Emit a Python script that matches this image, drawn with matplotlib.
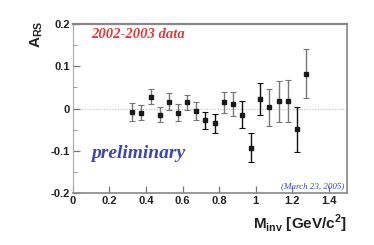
import matplotlib

matplotlib.use("Agg")
import matplotlib.pyplot as plt  # noqa: E402

# asymmetry vs invariant mass
m_inv = [0.325, 0.375, 0.425, 0.475, 0.525, 0.575, 0.625, 0.675, 0.725, 0.775,
         0.825, 0.875, 0.925, 0.975, 1.025, 1.075, 1.125, 1.175, 1.225, 1.275]
a_rs = [-0.008, -0.010, 0.028, -0.015, 0.016, -0.010, 0.015, -0.005, -0.028, -0.035,
        0.015, 0.011, -0.015, -0.093, 0.023, 0.003, 0.017, 0.018, -0.049, 0.082]
a_err = [0.021, 0.018, 0.018, 0.018, 0.020, 0.020, 0.018, 0.021, 0.020, 0.022,
         0.025, 0.029, 0.032, 0.034, 0.038, 0.044, 0.048, 0.049, 0.053, 0.058]
err_dark = [False, False, False, False, False, False, False, False, True, True,
            False, False, True, True, True, False, False, False, True, False]

x_ticks = [0, 0.2, 0.4, 0.6, 0.8, 1.0, 1.2, 1.4]
x_labels = ["0", "0.2", "0.4", "0.6", "0.8", "1", "1.2", "1.4"]
y_ticks = [-0.2, -0.1, 0, 0.1, 0.2]
y_labels = ["-0.2", "-0.1", "0", "0.1", "0.2"]

fig = plt.figure(figsize=(3.74, 2.45), dpi=100)
ax = fig.add_axes([0.195, 0.212, 0.733, 0.69])

ax.axhline(0, color="#bbbbbb", lw=0.8, ls=(0, (1, 1.5)), zorder=1)

for x, y, e, dark in zip(m_inv, a_rs, a_err, err_dark):
    col = "#111111" if dark else "#777777"
    ax.errorbar(x, y, yerr=e, fmt="none", ecolor=col, elinewidth=1.0,
                capsize=2, capthick=0.8, zorder=2)
ax.plot(m_inv, a_rs, "s", color="#1a1a1a", ms=3.0, zorder=3)

ax.set_xlim(0, 1.5)
ax.set_ylim(-0.2, 0.2)
ax.set_xticks(x_ticks)
ax.set_xticklabels(x_labels)
ax.set_yticks(y_ticks)
ax.set_yticklabels(y_labels)
ax.set_yticks([-0.15, -0.05, 0.05, 0.15], minor=True)
ax.tick_params(axis="both", which="major", direction="in", length=5, width=0.9,
               color="#777777", labelsize=8, pad=2, labelcolor="#222222")
ax.tick_params(axis="y", which="minor", direction="in", length=3, width=0.7,
               color="#999999")
for lab in ax.get_xticklabels() + ax.get_yticklabels():
    lab.set_fontweight("bold")
    lab.set_family("Liberation Sans")

for side, lw, c in [("top", 1.6, "#888888"), ("right", 1.2, "#888888"),
                    ("bottom", 1.2, "#888888"), ("left", 0.8, "#aaaaaa")]:
    ax.spines[side].set_linewidth(lw)
    ax.spines[side].set_color(c)

ax.text(0.1, 0.175, "2002-2003 data", color="#e03a3a", fontsize=10.5,
        family="Liberation Serif", style="italic", fontweight="bold",
        va="center", ha="left")
ax.text(0.1, -0.107, "preliminary", color="#3b4aa8", fontsize=14,
        family="Liberation Serif", style="italic", fontweight="bold",
        va="center", ha="left")
ax.text(1.485, -0.183, "(March 23, 2005)", color="#3b4aa8", fontsize=6.5,
        family="Liberation Serif", style="italic", va="center", ha="right")

fig.text(0.097, 0.86, r"A$_{\mathregular{RS}}$", rotation=90, fontsize=11,
         family="Liberation Sans", fontweight="bold", color="#222222",
         ha="center", va="center")
fig.text(0.928, 0.085, r"M$_{\mathregular{inv}}$ [GeV/c$^{\mathregular{2}}$]",
         fontsize=11, family="Liberation Sans", fontweight="bold",
         color="#222222", ha="right", va="center")

fig.savefig("out.png", dpi=100)
plt.close(fig)
